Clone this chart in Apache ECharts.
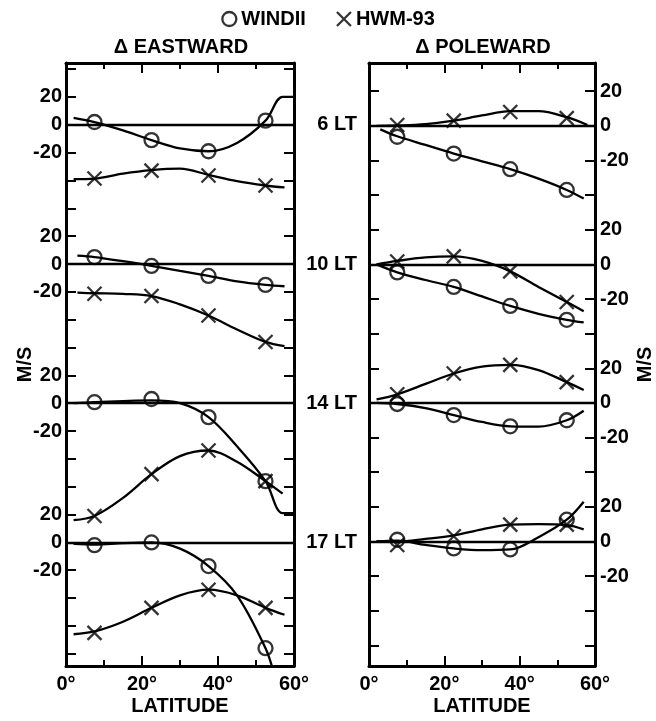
<!DOCTYPE html>
<html>
<head>
<meta charset="utf-8">
<script src="https://cdn.jsdelivr.net/npm/echarts@6/dist/echarts.min.js"></script>
<style>
  html, body { margin: 0; padding: 0; background: #fff; }
  #chart { width: 656px; height: 721px; }
</style>
</head>
<body>
<div id="chart"></div>
<script>
// rows are stacked on one axis, each shifted by an offset (m/s)
const eastOffsets = [0, -100, -200, -300];
const poleOffsets = [0, -80, -160, -240];
const ltLabels = ['6 LT', '10 LT', '14 LT', '17 LT'];
const rowTickLabels = [20, 0, -20];
const markLat = [7.5, 22.5, 37.5, 52.5];

// Δ eastward: measured points, one row per local time
const eastWindiiMarks = [[2, -11, -19, 3], [5, -1.4, -8.6, -15], [0.7, 3, -10, -56], [-2, 0, -17, -76]];
const eastHwmMarks = [[-38.6, -32.9, -36.4, -43.6], [-21.4, -23, -37, -56], [-81, -51, -34, -56], [-65, -47, -34, -47]];

// Δ eastward: fitted curves [lat, m/s]
const eastWindiiCurves = [
  [[2, 5], [7.5, 2], [15, -4], [22.5, -11], [30, -17], [37.5, -19], [45, -13], [52.5, 3], [57, 20], [60, 20]],
  [[3, 6], [7.5, 5], [15, 2], [22.5, -1.4], [30, -5], [37.5, -8.6], [45, -12.5], [52.5, -15], [57.5, -16]],
  [[2, 0], [7.5, 0.7], [15, 1.5], [22.5, 2], [30, 0], [37.5, -10], [45, -31], [52.5, -56], [57, -79], [60, -79]],
  [[2, -1], [7.5, -1.5], [15, -0.5], [22.5, 0], [30, -4.5], [37.5, -17], [45, -38], [52.5, -76], [54.5, -92]]
];
const eastHwmCurves = [
  [[2, -39], [7.5, -38.6], [15, -35], [22.5, -32.5], [30, -31.5], [37.5, -36], [45, -40.5], [52.5, -43.6], [57.5, -45]],
  [[3, -20.5], [7.5, -21], [15, -21.5], [22.5, -23], [30, -29], [37.5, -37], [45, -47], [52.5, -56], [57.5, -59]],
  [[2, -84], [7.5, -81], [15, -68], [22.5, -51], [30, -38], [37.5, -34], [45, -42], [52.5, -56], [57, -65]],
  [[2, -66], [7.5, -64], [15, -57], [22.5, -47], [30, -38], [37.5, -34], [45, -38], [52.5, -47], [57.5, -52]]
];

// Δ poleward
const poleWindiiMarks = [[-6.3, -16, -25, -37], [-4.6, -13, -24, -32], [-0.6, -7, -13.5, -10], [1, -4, -4.6, 12.6]];
const poleHwmMarks = [[0.5, 3, 8, 4.5], [1.7, 4.6, -4, -21.7], [5, 17, 22, 12], [-2, 3, 9.7, 9.7]];

const poleWindiiCurves = [
  [[3, -2], [7.5, -6], [15, -11], [22.5, -16], [30, -20.5], [37.5, -25], [45, -30.5], [52.5, -37], [57, -42]],
  [[2, 0], [7.5, -4.6], [15, -9], [22.5, -13], [30, -18.5], [37.5, -24], [45, -28.5], [52.5, -32], [57, -33.5]],
  [[2, 0], [7.5, -0.6], [15, -3], [22.5, -7], [30, -11], [37.5, -13.5], [45, -13.7], [52.5, -10], [57, -4.5]],
  [[2, 0], [7.5, 0.5], [15, -2], [22.5, -4], [30, -5], [37.5, -4.6], [45, 2.5], [52.5, 12.6], [57, 23]]
];
const poleHwmCurves = [
  [[2, 0], [7.5, 0.2], [15, 1], [22.5, 3], [30, 6], [37.5, 8.5], [45, 8.5], [52.5, 5], [58, 0.5]],
  [[2, 0], [7.5, 2], [15, 4], [22.5, 4.6], [30, 2], [37.5, -4], [45, -13], [52.5, -21.7], [57, -27]],
  [[2, 2], [7.5, 5], [15, 11], [22.5, 17], [30, 21], [37.5, 22], [45, 19], [52.5, 12], [57, 7.5]],
  [[2, 0], [7.5, 0], [15, 1.5], [22.5, 3.5], [30, 7], [37.5, 9.7], [45, 10], [52.5, 9.5], [57, 7]]
];

const FONT = '"Liberation Sans", Arial, Helvetica, sans-serif';
const txt = { color: '#000', fontFamily: FONT, fontWeight: 'bold', fontSize: 20 };
const crossPath = 'path://M0,0L10,10M10,0L0,10';

function tickValues(top, bottom) {
  const v = [];
  for (let t = top; t >= bottom; t -= 20) v.push(t);
  return v;
}
function labelValues(offsets) {
  return offsets.flatMap(o => rowTickLabels.map(t => o + t));
}
function rowValue(offsets, value) {
  let best = offsets[0];
  offsets.forEach(o => { if (Math.abs(value - o) < Math.abs(value - best)) best = o; });
  return Math.round(value - best);
}

function xAxisCfg(gridIndex, position) {
  const bottom = position === 'bottom';
  return {
    type: 'value', gridIndex, position, min: 0, max: 60, interval: 20,
    axisLine: { onZero: false, lineStyle: { color: '#000', width: 3 } },
    axisTick: { inside: true, length: 10, lineStyle: { color: '#000', width: 2 } },
    minorTick: { show: true, splitNumber: 2, length: 6, lineStyle: { color: '#000', width: 2 } },
    splitLine: { show: false },
    axisLabel: bottom ? { ...txt, margin: 8, formatter: '{value}°' } : { show: false },
    name: bottom ? 'LATITUDE' : '',
    nameLocation: 'middle', nameGap: 30, nameTextStyle: txt, nameMoveOverlap: false
  };
}

function yAxisCfg(gridIndex, position, min, max, ticks, axisLabel, name, nameGap) {
  return {
    type: 'value', gridIndex, position, min, max,
    axisLine: { onZero: false, lineStyle: { color: '#000', width: 3 } },
    axisTick: { inside: true, length: 10, customValues: ticks, lineStyle: { color: '#000', width: 2 } },
    splitLine: { show: false },
    axisLabel: axisLabel || { show: false },
    name: name || '', nameLocation: 'middle', nameRotate: 90, nameGap: nameGap || 0,
    nameTextStyle: txt, nameMoveOverlap: false
  };
}

function panelSeries(xi, yi, offsets, wCurves, hCurves, wMarks, hMarks) {
  const out = [];
  const lineBase = {
    type: 'line', xAxisIndex: xi, yAxisIndex: yi, smooth: 0.35, symbol: 'none',
    lineStyle: { color: '#000', width: 2.3 }, silent: true, clip: true, z: 3
  };
  const markStyle = { color: 'transparent', borderColor: '#000', borderWidth: 2.3 };
  offsets.forEach((off, r) => {
    out.push({
      ...lineBase,
      data: wCurves[r].map(([x, v]) => [x, v + off]),
      markLine: {
        symbol: ['none', 'none'], silent: true, label: { show: false },
        lineStyle: { color: '#000', width: 2.3, type: 'solid' },
        data: [{ yAxis: off }]
      }
    });
    out.push({ ...lineBase, data: hCurves[r].map(([x, v]) => [x, v + off]) });
    out.push({
      type: 'scatter', name: 'WINDII', xAxisIndex: xi, yAxisIndex: yi, silent: true, z: 4,
      symbol: 'circle', symbolSize: 14, itemStyle: markStyle,
      data: wMarks[r].map((v, i) => [markLat[i], v + off])
    });
    out.push({
      type: 'scatter', name: 'HWM-93', xAxisIndex: xi, yAxisIndex: yi, silent: true, z: 4,
      symbol: crossPath, symbolSize: 14, itemStyle: markStyle,
      data: hMarks[r].map((v, i) => [markLat[i], v + off])
    });
  });
  return out;
}

const eastMin = -388.8, eastMax = 44.4;
const poleMin = -311.9, poleMax = 36.3;
const eastTicks = tickValues(40, -380);
const poleTicks = tickValues(20, -300);

const chart = echarts.init(document.getElementById('chart'), null, { renderer: 'canvas' });
chart.setOption({
  animation: false,
  backgroundColor: '#fff',
  textStyle: { fontFamily: FONT },
  legend: {
    top: 4, left: 'center', itemGap: 30, itemWidth: 14, itemHeight: 14,
    textStyle: txt,
    itemStyle: { color: 'transparent', borderColor: '#000', borderWidth: 2.3 },
    data: [{ name: 'WINDII', icon: 'circle' }, { name: 'HWM-93', icon: crossPath }],
    selectedMode: false
  },
  grid: [
    { left: 66, top: 63, width: 228, height: 605 },
    { left: 369, top: 63, width: 228, height: 605 }
  ],
  xAxis: [xAxisCfg(0, 'bottom'), xAxisCfg(0, 'top'), xAxisCfg(1, 'bottom'), xAxisCfg(1, 'top')],
  yAxis: [
    yAxisCfg(0, 'left', eastMin, eastMax, eastTicks, {
      ...txt, margin: 4, customValues: labelValues(eastOffsets),
      formatter: v => String(rowValue(eastOffsets, v))
    }, 'M/S', 31),
    yAxisCfg(0, 'right', eastMin, eastMax, eastTicks, {
      ...txt, margin: 63, align: 'right', customValues: eastOffsets,
      formatter: v => ltLabels[eastOffsets.indexOf(Math.round(v))] || ''
    }),
    yAxisCfg(1, 'left', poleMin, poleMax, poleTicks),
    yAxisCfg(1, 'right', poleMin, poleMax, poleTicks, {
      ...txt, margin: 5, customValues: labelValues(poleOffsets),
      formatter: v => String(rowValue(poleOffsets, v))
    }, 'M/S', 40)
  ],
  graphic: [
    { type: 'text', x: 181, y: 47, style: { text: 'Δ EASTWARD', font: 'bold 20px ' + FONT, fill: '#000', textAlign: 'center', textVerticalAlign: 'middle' } },
    { type: 'text', x: 483, y: 47, style: { text: 'Δ POLEWARD', font: 'bold 20px ' + FONT, fill: '#000', textAlign: 'center', textVerticalAlign: 'middle' } }
  ],
  series: [
    ...panelSeries(0, 0, eastOffsets, eastWindiiCurves, eastHwmCurves, eastWindiiMarks, eastHwmMarks),
    ...panelSeries(2, 2, poleOffsets, poleWindiiCurves, poleHwmCurves, poleWindiiMarks, poleHwmMarks)
  ]
});
</script>
</body>
</html>
